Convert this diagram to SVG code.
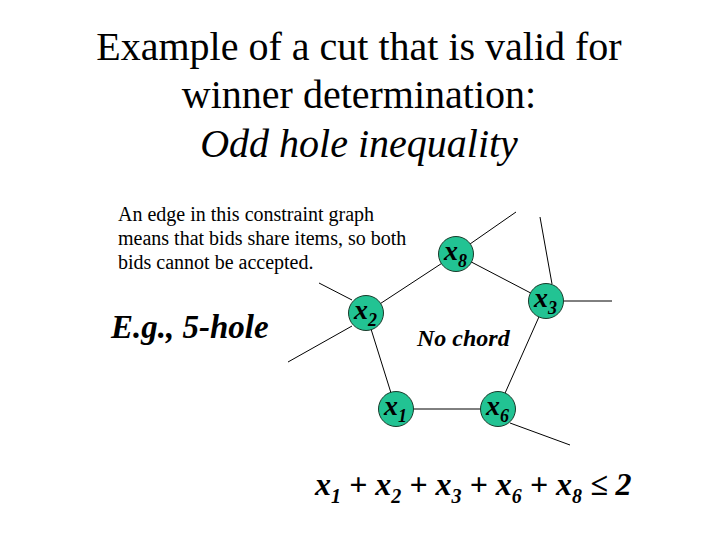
<svg xmlns="http://www.w3.org/2000/svg" width="720" height="540" viewBox="0 0 720 540">
<style>
.hd{font-family:"Liberation Serif","Times New Roman",serif;font-size:40px;fill:#000}
.it{font-style:italic}
.body{font-family:"Liberation Serif","Times New Roman",serif;font-size:20px;fill:#000}
.bi{font-family:"Liberation Serif","Times New Roman",serif;font-weight:bold;font-style:italic;fill:#000}
.edge{stroke:#000;stroke-width:1;fill:none}
.node{fill:#22C393;stroke:#1a3a2a;stroke-width:1}
.lbl{font-size:28px}
.sub{font-size:18px}
</style>
<rect width="720" height="540" fill="#fff"/>
<g id="heading">
<text class="hd" style="font-family:'Liberation Serif',serif" x="359" y="60" text-anchor="middle">Example of a cut that is valid for</text>
<text class="hd" style="font-family:'Liberation Serif',serif" x="359" y="108" text-anchor="middle">winner determination:</text>
<text class="hd it" style="font-family:'Liberation Serif',serif" x="359" y="157" text-anchor="middle">Odd hole inequality</text>
</g>
<g id="note">
<text class="body" x="118" y="221">An edge in this constraint graph</text>
<text class="body" x="118" y="245">means that bids share items, so both</text>
<text class="body" x="118" y="269">bids cannot be accepted.</text>
</g>
<text id="eg" class="bi" x="111" y="338" font-size="33">E.g., 5-hole</text>
<g id="connectors">
<line class="edge" x1="366" y1="313" x2="456" y2="254"/>
<line class="edge" x1="456" y1="254" x2="546" y2="301"/>
<line class="edge" x1="546" y1="301" x2="498" y2="409"/>
<line class="edge" x1="498" y1="409" x2="396" y2="409"/>
<line class="edge" x1="396" y1="409" x2="366" y2="313"/>
<line class="edge" x1="470" y1="244" x2="516" y2="212"/>
<line class="edge" x1="540" y1="217" x2="552" y2="284"/>
<line class="edge" x1="563" y1="301" x2="612" y2="301"/>
<line class="edge" x1="319" y1="283" x2="352" y2="300"/>
<line class="edge" x1="352" y1="326" x2="288" y2="362"/>
<line class="edge" x1="510" y1="423" x2="570" y2="445"/>
</g>
<g id="x8"><circle class="node" cx="456" cy="254" r="17.5"/><text class="bi lbl" x="444" y="260">x<tspan class="sub" dy="7">8</tspan></text></g>
<g id="x3"><circle class="node" cx="546" cy="301" r="17.5"/><text class="bi lbl" x="534" y="307">x<tspan class="sub" dy="7">3</tspan></text></g>
<g id="x2"><circle class="node" cx="366" cy="313" r="17.5"/><text class="bi lbl" x="354" y="319">x<tspan class="sub" dy="7">2</tspan></text></g>
<g id="x1"><circle class="node" cx="396" cy="409" r="17.5"/><text class="bi lbl" x="384" y="415">x<tspan class="sub" dy="7">1</tspan></text></g>
<g id="x6"><circle class="node" cx="498" cy="409" r="17.5"/><text class="bi lbl" x="486" y="415">x<tspan class="sub" dy="7">6</tspan></text></g>
<text id="nochord" class="bi" x="417" y="346" font-size="24">No chord</text>
<text id="equation" class="bi" x="315" y="495" font-size="32">x<tspan font-size="20" dy="8">1</tspan><tspan dy="-8"> + x</tspan><tspan font-size="20" dy="8">2</tspan><tspan dy="-8"> + x</tspan><tspan font-size="20" dy="8">3</tspan><tspan dy="-8"> + x</tspan><tspan font-size="20" dy="8">6</tspan><tspan dy="-8"> + x</tspan><tspan font-size="20" dy="8">8</tspan><tspan dy="-8"> ≤ 2</tspan></text>
</svg>
